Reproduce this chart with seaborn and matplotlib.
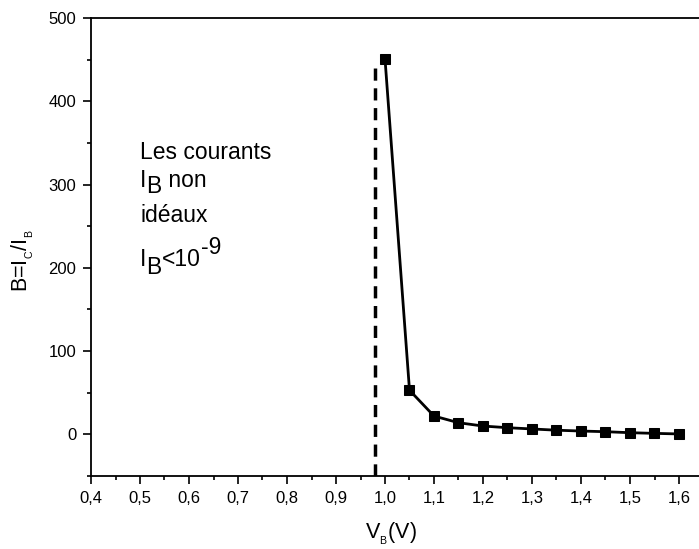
import numpy as np
import pandas as pd
import matplotlib
matplotlib.use("Agg")
import matplotlib.pyplot as plt
import seaborn as sns
from matplotlib.ticker import MultipleLocator, FuncFormatter
from matplotlib.transforms import IdentityTransform

# data
vb = [1.00, 1.05, 1.10, 1.15, 1.20, 1.25, 1.30, 1.35, 1.40, 1.45, 1.50, 1.55, 1.60]
beta = [451, 53, 22, 14, 10, 8, 6.5, 5, 4, 3.2, 2, 1.2, 0.5]
v_limit = 0.98
v_limit_top = 446

# annotation lines: (text, vertical shift in px) pieces
note_lines = [
    [('Les courants', 0)],
    [('I', 0), ('B', -6), (' non', 0)],
    [('idéaux', 0)],
    [('I', 0), ('B', -8), ('<10', 0), ('-9', 12)],
]
note_baselines = [159, 187, 222, 266]  # px from top of image

sns.set_theme(style="ticks")
plt.rcParams['font.family'] = ['Liberation Sans', 'DejaVu Sans']
plt.rcParams['mathtext.fontset'] = 'custom'
plt.rcParams['mathtext.rm'] = 'Liberation Sans'
plt.rcParams['mathtext.it'] = 'Liberation Sans'
plt.rcParams['text.color'] = 'black'
plt.rcParams['axes.labelcolor'] = 'black'

df = pd.DataFrame({'vb': vb, 'beta': beta})

W, H = 699, 549
fig = plt.figure(figsize=(W / 100, H / 100), dpi=100)
ax = fig.add_axes([91 / W, (H - 476) / H, 1 - 91 / W, (476 - 18) / H])

sns.lineplot(data=df, x='vb', y='beta', ax=ax, color='black', marker='s',
             markersize=7.5, markeredgecolor='black', linewidth=2)
ax.plot([v_limit, v_limit], [-50, v_limit_top], color='black', linewidth=2.5,
        linestyle=(0, (3.5, 2.2)))

ax.set_xlim(0.4, 0.4 + (W - 91) / 490.0)
ax.set_ylim(-50, 500)

ax.xaxis.set_major_locator(MultipleLocator(0.1))
ax.xaxis.set_minor_locator(MultipleLocator(0.05))
ax.yaxis.set_major_locator(MultipleLocator(100))
ax.yaxis.set_minor_locator(MultipleLocator(50))
ax.xaxis.set_major_formatter(FuncFormatter(lambda v, p: f"{v:.1f}".replace('.', ',')))
ax.tick_params(which='major', direction='out', length=6, width=1.2, labelsize=12,
               colors='black')
ax.tick_params(axis='x', which='major', pad=5)
ax.tick_params(axis='y', which='major', pad=4.5)
ax.tick_params(which='minor', direction='out', length=3, width=1.2, colors='black')

for s in ['left', 'bottom', 'top']:
    ax.spines[s].set_linewidth(1.3)
    ax.spines[s].set_color('black')
ax.spines['right'].set_visible(False)

ax.set_xlabel(r'V$_{_B}$(V)', fontsize=15.5)
ax.set_ylabel(r'B=I$_{_C}$/I$_{_B}$', fontsize=15.5)
ax.xaxis.set_label_coords(0.494, (476 - 521) / 458)
ax.yaxis.set_label_coords((36 - 91) / 608, 0.47)

# annotation built piece by piece so the subscripts stay full size
fig.canvas.draw()
renderer = fig.canvas.get_renderer()
for pieces, base in zip(note_lines, note_baselines):
    x = 140
    for txt, dy in pieces:
        t = fig.text(x, H - base + dy, txt, fontsize=16.5, va='baseline', ha='left',
                     color='black', transform=IdentityTransform())
        x = t.get_window_extent(renderer).x1

fig.savefig('out.png', dpi=100)
